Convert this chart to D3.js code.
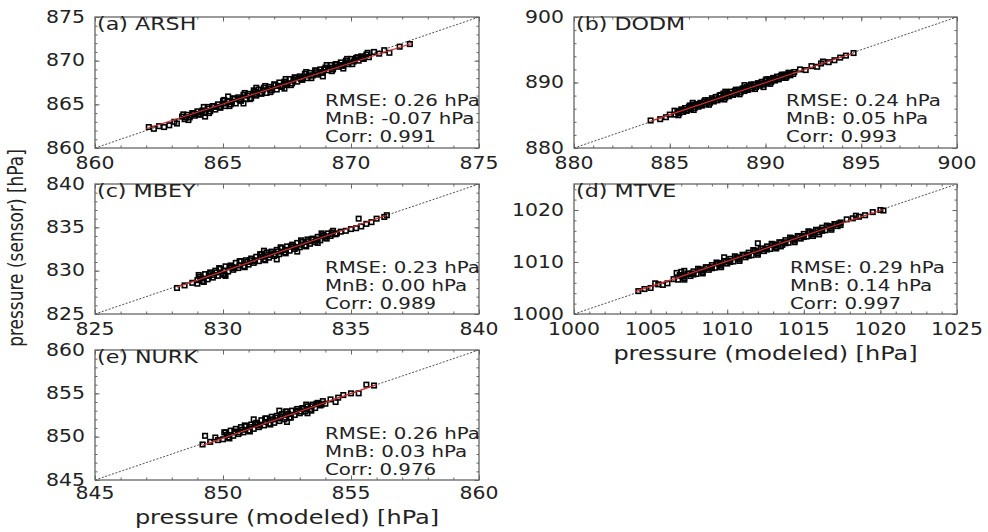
<!DOCTYPE html>
<html><head><meta charset="utf-8">
<script src="https://cdn.jsdelivr.net/npm/d3@7"></script>
<style>body{margin:0;background:#fff}svg{display:block}text{font-family:"DejaVu Sans",sans-serif;fill:#222}</style>
</head><body>
<svg id="c" width="988" height="532"></svg>
<script>
// ---------------- data ----------------
const stations = ["(a) ARSH", "(b) DODM", "(c) MBEY", "(d) MTVE", "(e) NURK"];
const xDomains = [[860, 875], [880, 900], [825, 840], [1000, 1025], [845, 860]];
const yDomains = [[860, 875], [880, 900], [825, 840], [1000, 1025], [845, 860]];
const xTicks = [[860, 865, 870, 875], [880, 885, 890, 895, 900], [825, 830, 835, 840], [1000, 1005, 1010, 1015, 1020, 1025], [845, 850, 855, 860]];
const yTicks = [[860, 865, 870, 875], [880, 890, 900], [825, 830, 835, 840], [1000, 1010, 1020], [845, 850, 855, 860]];
const rmse = ["0.26", "0.24", "0.23", "0.29", "0.26"];
const mnb = ["-0.07", "0.05", "0.00", "0.14", "0.03"];
const corr = ["0.991", "0.993", "0.989", "0.997", "0.976"];

const ptsA = [[862.1,862.4],[862.3,862.2],[862.5,862.5],[862.7,862.4],[862.9,862.6],[863.1,863.0],[863.2,862.8],[863.4,863.6],
[863.5,863.3],[863.6,863.8],[863.7,863.5],[863.8,864.0],[863.9,863.7],[864.0,864.2],[864.1,863.8],[864.2,864.3],[864.3,864.0],[864.4,864.7],[864.5,864.2],[864.6,864.8],[864.7,864.4],[864.8,865.0],[864.9,864.6],[865.0,865.4],[865.1,864.8],[865.2,865.3],[865.3,865.0],[865.4,865.7],[865.5,865.1],[865.6,865.8],[865.7,865.4],[865.8,866.1],[865.9,865.6],[866.0,866.2],[866.1,865.7],[866.2,866.6],[866.3,866.0],[866.4,866.7],[866.5,866.2],[866.6,866.9],[866.7,866.3],[866.8,867.0],[866.9,866.6],[867.0,867.3],[867.1,866.7],[867.2,867.5],[867.3,867.0],[867.4,867.6],[867.5,867.2],[867.6,867.9],[867.7,867.4],[867.8,868.1],[867.9,867.6],[868.0,868.2],[868.1,867.8],[868.2,868.5],[868.3,868.0],[868.4,868.6],[868.5,868.3],[868.6,868.9],[868.7,868.4],[868.8,869.0],[868.9,868.6],[869.0,869.2],[869.1,868.9],[869.2,869.5],[869.3,869.0],[869.4,869.6],[869.5,869.3],[869.6,869.8],[869.7,869.4],[869.8,870.0],[869.9,869.6],[870.0,870.2],[870.1,869.9],[870.2,870.3],[870.3,870.0],[870.4,870.5],[870.5,870.2],[870.6,870.7],[870.7,870.4],
[863.55,863.5],[863.85,863.9],[864.15,864.1],[864.45,864.5],[864.75,864.7],[865.05,865.1],[865.35,865.3],[865.65,865.6],[865.95,866.0],[866.25,866.2],[866.55,866.6],[866.85,866.8],[867.15,867.1],[867.45,867.4],[867.75,867.8],[868.05,868.0],[868.35,868.3],[868.65,868.6],[868.95,869.0],[869.25,869.2],[869.55,869.5],[869.85,869.8],[870.15,870.1],[870.45,870.4],
[863.45,863.85],[863.65,863.2],[863.85,864.0],[864.05,863.9],[864.25,864.7],[864.45,864.0],[864.65,864.8],[864.85,864.7],[865.05,865.5],[865.25,864.8],[865.45,865.6],[865.65,865.5],[865.85,866.3],[866.05,865.6],[866.25,866.4],[866.45,866.3],[866.65,867.1],[866.85,866.4],[867.05,867.2],[867.25,867.1],[867.45,867.9],[867.65,867.2],[867.85,868.0],[868.05,867.9],[868.25,868.7],[868.45,868.0],[868.65,868.8],[868.85,868.7],[869.05,869.5],[869.25,868.8],[869.45,869.6],[869.65,869.5],[869.85,870.2],[870.05,869.6],[870.25,870.4],[870.45,870.3],[870.65,870.9],
[865.2,865.9],[866.3,866.9],[867.4,866.8],[868.9,868.2],[869.7,869.1],[865.8,865.1],[864.3,863.6],
[870.9,871.0],[871.1,870.8],[871.3,871.2],[871.5,870.9],[871.9,871.6],[872.3,871.9]];

const ptsB = [[884.0,884.2],[884.5,884.4],[884.8,884.7],[885.0,885.1],
[885.3,885.1],[885.4,885.6],[885.5,885.3],[885.6,885.9],[885.7,885.5],[885.8,886.1],[885.9,885.7],[886.0,886.3],[886.1,885.9],[886.2,886.6],[886.3,886.1],[886.4,886.7],[886.5,886.3],[886.6,886.9],[886.7,886.5],[886.8,887.1],[886.9,886.7],[887.0,887.3],[887.1,886.9],[887.2,887.6],[887.3,887.1],[887.4,887.8],[887.5,887.3],[887.6,888.0],[887.7,887.5],[887.8,888.3],[887.9,887.7],[888.0,888.4],[888.1,887.9],[888.2,888.6],[888.3,888.1],[888.4,888.7],[888.5,888.3],[888.6,888.9],[888.7,888.5],[888.8,889.1],[888.9,888.7],[889.0,889.3],[889.1,888.9],[889.2,889.5],[889.3,889.1],[889.4,889.7],[889.5,889.3],[889.6,889.9],[889.7,889.5],[889.8,890.1],[889.9,889.7],[890.0,890.3],[890.1,889.9],[890.2,890.5],[890.3,890.1],[890.4,890.7],[890.5,890.3],[890.6,890.9],[890.7,890.5],[890.8,891.0],[890.9,890.7],[891.0,891.2],[891.1,890.9],[891.2,891.5],[891.3,891.1],[891.5,891.6],
[885.45,885.5],[885.75,885.8],[886.05,886.1],[886.35,886.4],[886.65,886.7],[886.95,887.0],[887.25,887.3],[887.55,887.6],[887.85,887.9],[888.15,888.2],[888.45,888.5],[888.75,888.8],[889.05,889.1],[889.35,889.4],[889.65,889.7],[889.95,890.0],[890.25,890.3],[890.55,890.6],[890.85,890.9],[891.15,891.2],
[885.25,885.7],[885.45,885.0],[885.65,885.8],[885.85,885.7],[886.05,886.5],[886.25,885.8],[886.45,886.6],[886.65,886.5],[886.85,887.3],[887.05,886.6],[887.25,887.4],[887.45,887.3],[887.65,888.1],[887.85,887.4],[888.05,888.2],[888.25,888.1],[888.45,888.9],[888.65,888.2],[888.85,889.0],[889.05,888.9],[889.25,889.7],[889.45,889.0],[889.65,889.8],[889.85,889.7],[890.05,890.5],[890.25,889.8],[890.45,890.6],[890.65,890.5],[890.85,891.2],[891.05,890.7],[891.25,891.4],[891.45,891.3],
[887.9,888.6],[888.9,889.6],[886.2,886.9],[889.9,889.3],
[891.8,892.0],[892.1,891.9],[892.4,892.5],[892.7,892.4],[892.9,892.9],[893.0,893.2],[893.3,893.1],[893.6,893.4],[893.9,893.8],[894.2,894.1],[894.6,894.5]];

const ptsC = [[828.2,828.0],[828.5,828.3],[828.8,828.6],[829.0,828.9],
[829.0,828.5],[829.1,829.3],[829.2,828.8],[829.3,829.6],[829.4,829.0],[829.5,829.8],[829.6,829.2],[829.7,830.0],[829.8,829.4],[829.9,830.2],[830.0,829.6],[830.1,830.5],[830.2,829.9],[830.3,830.6],[830.4,830.1],[830.5,830.9],[830.6,830.3],[830.7,831.1],[830.8,830.5],[830.9,831.2],[831.0,830.7],[831.1,831.4],[831.2,830.9],[831.3,831.6],[831.4,831.1],[831.5,831.9],[831.6,831.3],[831.7,832.1],[831.8,831.5],[831.9,832.2],[832.0,831.7],[832.1,832.4],[832.2,831.9],[832.3,832.6],[832.4,832.1],[832.5,832.8],[832.6,832.3],[832.7,833.0],[832.8,832.5],[832.9,833.2],[833.0,832.7],[833.1,833.3],[833.2,832.9],[833.3,833.6],[833.4,833.1],[833.5,833.7],[833.6,833.3],[833.7,833.9],[833.8,833.5],[833.9,834.1],[834.0,833.8],[834.1,834.3],[834.2,834.0],[834.3,834.6],[834.4,834.2],[834.6,834.5],
[829.15,829.1],[829.45,829.4],[829.75,829.8],[830.05,830.0],[830.35,830.4],[830.65,830.6],[830.95,831.0],[831.25,831.2],[831.55,831.6],[831.85,831.8],[832.15,832.2],[832.45,832.4],[832.75,832.8],[833.05,833.0],[833.35,833.4],[833.65,833.6],[833.95,834.0],[834.25,834.2],
[829.05,829.5],[829.25,828.7],[829.45,829.6],[829.65,829.5],[829.85,830.3],[830.05,829.5],[830.25,830.4],[830.45,830.3],[830.65,831.1],[830.85,830.4],[831.05,831.2],[831.25,831.1],[831.45,831.9],[831.65,831.2],[831.85,832.0],[832.05,831.9],[832.25,832.7],[832.45,832.0],[832.65,832.8],[832.85,832.7],[833.05,833.5],[833.25,832.8],[833.45,833.6],[833.65,833.5],[833.85,834.3],[834.05,833.7],[834.25,834.4],[834.45,834.3],
[831.6,832.3],[832.1,831.3],[832.9,832.2],[833.7,833.2],[830.1,829.4],
[834.8,834.6],[835.0,834.8],[835.2,834.9],[835.3,836.0],[835.4,835.1],[835.6,835.4],[835.8,835.6],[836.0,836.0],[836.3,836.2],[836.4,836.4]];

const ptsD = [[1004.2,1004.4],[1004.6,1004.8],[1005.0,1005.0],[1005.3,1005.9],[1005.5,1005.7],[1005.8,1005.6],[1006.1,1005.9],[1006.5,1006.7],[1006.7,1007.9],[1007.0,1008.1],
[1006.8,1006.6],[1007.0,1007.4],[1007.2,1006.9],[1007.4,1007.8],[1007.6,1007.3],[1007.8,1008.2],[1008.0,1007.7],[1008.2,1008.6],[1008.4,1008.1],[1008.6,1009.0],[1008.8,1008.5],[1009.0,1009.4],[1009.2,1008.9],[1009.4,1009.8],[1009.6,1009.3],[1009.8,1010.2],[1010.0,1009.7],[1010.2,1010.6],[1010.4,1010.1],[1010.6,1010.9],[1010.8,1010.5],[1011.0,1011.4],[1011.2,1010.9],[1011.4,1011.8],[1011.6,1011.3],[1011.8,1012.2],[1012.0,1011.7],[1012.2,1012.6],[1012.4,1012.1],[1012.6,1013.0],[1012.8,1012.5],[1013.0,1013.4],[1013.2,1012.9],[1013.4,1013.8],[1013.6,1013.3],[1013.8,1014.2],[1014.0,1013.7],[1014.2,1014.6],[1014.4,1014.1],[1014.6,1015.0],[1014.8,1014.5],[1015.0,1015.4],[1015.2,1014.9],[1015.4,1015.8],[1015.6,1015.3],[1015.8,1016.2],[1016.0,1015.7],[1016.2,1016.6],[1016.4,1016.1],[1016.6,1016.9],[1016.8,1016.5],[1017.0,1017.3],[1017.2,1016.9],[1017.4,1017.6],
[1007.1,1007.2],[1007.7,1007.8],[1008.3,1008.4],[1008.9,1009.0],[1009.5,1009.6],[1010.1,1010.2],[1010.7,1010.8],[1011.3,1011.4],[1011.9,1012.0],[1012.5,1012.6],[1013.1,1013.2],[1013.7,1013.8],[1014.3,1014.4],[1014.9,1015.0],[1015.5,1015.6],[1016.1,1016.2],[1016.7,1016.8],[1017.3,1017.4],
[1006.9,1007.5],[1007.2,1006.6],[1007.5,1007.7],[1007.8,1007.6],[1008.1,1008.7],[1008.4,1007.8],[1008.7,1008.9],[1009.0,1008.8],[1009.3,1009.9],[1009.6,1009.0],[1009.9,1010.1],[1010.2,1010.0],[1010.5,1011.1],[1010.8,1010.2],[1011.1,1011.3],[1011.4,1011.2],[1011.7,1012.3],[1012.0,1011.4],[1012.3,1012.5],[1012.6,1012.4],[1012.9,1013.5],[1013.2,1012.6],[1013.5,1013.7],[1013.8,1013.6],[1014.1,1014.7],[1014.4,1013.8],[1014.7,1014.9],[1015.0,1014.8],[1015.3,1015.9],[1015.6,1015.0],[1015.9,1016.1],[1016.2,1016.0],[1016.5,1017.0],[1016.8,1016.2],[1017.1,1017.3],[1017.4,1017.1],
[1012.0,1013.6],[1009.8,1010.9],[1007.2,1008.3],[1013.5,1013.0],[1016.0,1015.3],
[1017.8,1018.2],[1018.2,1018.4],[1018.4,1018.9],[1018.6,1018.7],[1019.0,1019.0],[1019.5,1019.6],[1020.0,1020.0],[1020.2,1019.9]];

const ptsE = [[849.2,849.1],[849.3,850.1],[849.5,849.4],[849.7,849.9],[849.8,849.6],
[850.0,849.7],[850.1,850.5],[850.2,849.9],[850.3,850.7],[850.4,850.1],[850.5,850.9],[850.6,850.3],[850.7,851.1],[850.8,850.5],[850.9,851.2],[851.0,850.7],[851.1,851.4],[851.2,850.9],[851.3,851.6],[851.4,851.1],[851.5,851.9],[851.6,851.3],[851.7,852.1],[851.8,851.5],[851.9,852.3],[852.0,851.6],[852.1,852.4],[852.2,851.8],[852.3,852.6],[852.4,852.0],[852.5,852.9],[852.6,852.2],[852.7,853.0],[852.8,852.5],[852.9,853.2],[853.0,852.7],[853.1,853.3],[853.2,852.9],[853.3,853.5],[853.4,853.1],[853.5,853.7],[853.6,853.3],[853.7,853.9],[853.8,853.6],[853.9,854.1],[854.0,853.8],
[850.15,850.2],[850.45,850.5],[850.75,850.8],[851.05,851.1],[851.35,851.4],[851.65,851.7],[851.95,852.0],[852.25,852.3],[852.55,852.6],[852.85,852.9],[853.15,853.2],[853.45,853.5],[853.75,853.8],
[850.05,850.5],[850.25,849.8],[850.45,850.6],[850.65,850.5],[850.85,851.3],[851.05,850.6],[851.25,851.4],[851.45,851.3],[851.65,852.1],[851.85,851.4],[852.05,852.2],[852.25,852.1],[852.45,852.9],[852.65,852.2],[852.85,853.0],[853.05,852.9],[853.25,853.7],[853.45,853.0],[853.65,853.8],[853.85,853.7],
[852.2,853.0],[852.5,851.7],[851.2,852.0],[853.3,852.7],
[854.2,854.3],[854.4,854.0],[854.5,854.5],[854.7,854.8],[855.0,855.0],[855.3,855.0],[855.6,856.0],[855.9,855.9]];

const points = [ptsA, ptsB, ptsC, ptsD, ptsE];
// regression line end points [x0,y0,x1,y1]
const fits = [[862.0,862.2,872.4,872.0],[884.0,884.1,894.6,894.5],[828.2,828.1,836.4,836.4],[1004.0,1004.3,1020.2,1020.1],[849.2,849.0,856.0,856.0]];
const xTitle = "pressure (modeled) [hPa]";
const yTitle = "pressure (sensor) [hPa]";

// ---------------- layout ----------------
const frames = [[95,17,384,131],[574,17,383,131],[95,184,384,130],[574,184,383,130],[95,350,384,130]];
const annX = [230, 212, 230, 216, 230];
const xLabDy = [21, 21, 21, 21, 19];
const SX = 1.2;
const svg = d3.select("#c");

function sText(g, x, y, s, size, anchor) {
  return g.append("text").attr("transform", `translate(${x},${y}) scale(${SX},1)`)
    .attr("text-anchor", anchor || "start").attr("font-size", size).text(s);
}

stations.forEach((name, i) => {
  const [fx, fy, fw, fh] = frames[i];
  const g = svg.append("g").attr("transform", `translate(${fx},${fy})`);
  const x = d3.scaleLinear().domain(xDomains[i]).range([0, fw]);
  const y = d3.scaleLinear().domain(yDomains[i]).range([fh, 0]);
  const clipId = "clip" + i;
  g.append("clipPath").attr("id", clipId).append("rect").attr("width", fw).attr("height", fh);

  const yMinorStep = (yDomains[i][1] - yDomains[i][0]) > 15 ? 2 : 1;
  const xMinor = d3.range(xDomains[i][0], xDomains[i][1] + 0.001, 1);
  const yMinor = d3.range(yDomains[i][0], yDomains[i][1] + 0.001, yMinorStep);

  const tickCol = "#666";
  function styleAx(sel) { sel.select(".domain").remove(); sel.selectAll("line").attr("stroke", tickCol).attr("stroke-width", 1); }
  // minor ticks on all sides (inward)
  g.append("g").attr("transform", `translate(0,${fh})`).call(d3.axisBottom(x).tickValues(xMinor).tickSize(-2.5).tickFormat("")).call(styleAx);
  g.append("g").call(d3.axisTop(x).tickValues(xMinor).tickSize(-2.5).tickFormat("")).call(styleAx);
  g.append("g").call(d3.axisLeft(y).tickValues(yMinor).tickSize(-2.5).tickFormat("")).call(styleAx);
  g.append("g").attr("transform", `translate(${fw},0)`).call(d3.axisRight(y).tickValues(yMinor).tickSize(-2.5).tickFormat("")).call(styleAx);
  // major ticks
  g.append("g").attr("transform", `translate(0,${fh})`).call(d3.axisBottom(x).tickValues(xTicks[i]).tickSize(-4.5).tickFormat("")).call(styleAx);
  g.append("g").call(d3.axisTop(x).tickValues(xTicks[i]).tickSize(-4.5).tickFormat("")).call(styleAx);
  g.append("g").call(d3.axisLeft(y).tickValues(yTicks[i]).tickSize(-4.5).tickFormat("")).call(styleAx);
  g.append("g").attr("transform", `translate(${fw},0)`).call(d3.axisRight(y).tickValues(yTicks[i]).tickSize(-4.5).tickFormat("")).call(styleAx);

  // tick labels
  const lab = g.append("g");
  xTicks[i].forEach(t => sText(lab, x(t), fh + xLabDy[i], d3.format("d")(t), 17, "middle"));
  yTicks[i].forEach(t => sText(lab, -10, y(t) + 5.8, d3.format("d")(t), 17, "end"));

  const plot = g.append("g").attr("clip-path", `url(#${clipId})`);
  // 1:1 line
  plot.append("line")
    .attr("x1", x(xDomains[i][0])).attr("y1", y(xDomains[i][0]))
    .attr("x2", x(xDomains[i][1])).attr("y2", y(xDomains[i][1]))
    .attr("stroke", "#222").attr("stroke-width", 0.8).attr("stroke-dasharray", "2,1.6");
  // points
  const s = 4.5;
  plot.selectAll("rect.pt").data(points[i]).join("rect").attr("class", "pt")
    .attr("x", d => x(d[0]) - s / 2).attr("y", d => y(d[1]) - s / 2)
    .attr("width", s).attr("height", s)
    .attr("fill", "none").attr("stroke", "#000").attr("stroke-width", 1.6);
  // regression line
  const f = fits[i];
  plot.append("line").attr("x1", x(f[0])).attr("y1", y(f[1])).attr("x2", x(f[2])).attr("y2", y(f[3]))
    .attr("stroke", "#d42a2a").attr("stroke-width", 1.2);

  // frame
  g.append("rect").attr("width", fw).attr("height", fh).attr("fill", "none")
    .attr("stroke", "#666").attr("stroke-width", 1.3);

  // panel label
  sText(g, 2, 13, name, 18.5, "start");
  // statistics
  const ax = annX[i];
  sText(g, ax, 89, `RMSE: ${rmse[i]} hPa`, 16.5);
  sText(g, ax, 107, `MnB: ${mnb[i]} hPa`, 16.5);
  sText(g, ax, 125, `Corr: ${corr[i]}`, 16.5);
});

// axis titles
sText(svg, 574 + 383 / 2, 360, xTitle, 20, "middle");
sText(svg, 95 + 384 / 2, 524, xTitle, 20, "middle");
svg.append("text").attr("transform", `translate(23,248) scale(${SX},1) rotate(-90)`)
  .attr("text-anchor", "middle").attr("font-size", 17).text(yTitle);
</script>
</body></html>
